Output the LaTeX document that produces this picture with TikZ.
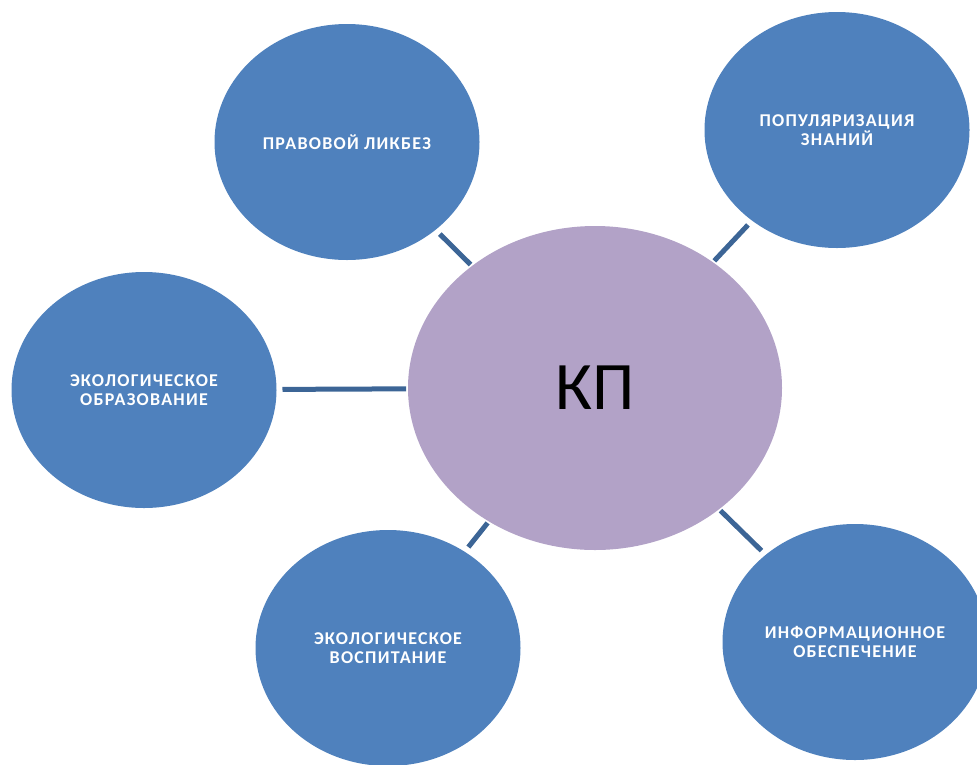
\documentclass[tikz,border=0pt]{standalone}
\usepackage{fontspec}
\setmainfont{Carlito}
\newfontfamily\labelfont{Carlito}[LetterSpace=7]
\usetikzlibrary{shapes.geometric}
\definecolor{topicblue}{HTML}{4F81BD}
\definecolor{corelilac}{HTML}{B2A2C7}
\definecolor{linkblue}{HTML}{3C6596}

\begin{document}
\begin{tikzpicture}[x=1pt,y=-1pt,
    topic/.style={ellipse, fill=topicblue, minimum width=265pt, minimum height=236pt,
      inner sep=0pt, outer sep=0pt, text=white, align=center,
      font=\labelfont\bfseries\fontsize{18}{19}\selectfont},
    link/.style={draw=linkblue, line width=5pt, shorten <=2pt, shorten >=6pt}]
    \useasboundingbox (0,0) rectangle (977,764);
    % centre
    \node[ellipse, fill=corelilac, minimum width=374pt, minimum height=324pt,
      inner sep=0pt, outer sep=0pt, font=\fontsize{68}{70}\selectfont] (kp) at (595,388) {КП};
    % topics
    \node[topic] (pravo) at (347,142) {ПРАВОВОЙ ЛИКБЕЗ};
    \node[topic] (popul) at (837,130) {ПОПУЛЯРИЗАЦИЯ\\ЗНАНИЙ};
    \node[topic] (obraz) at (144,390) {ЭКОЛОГИЧЕСКОЕ\\ОБРАЗОВАНИЕ};
    \node[topic] (vospit) at (388,648) {ЭКОЛОГИЧЕСКОЕ\\ВОСПИТАНИЕ};
    \node[topic] (inform) at (855,642) {ИНФОРМАЦИОННОЕ\\ОБЕСПЕЧЕНИЕ};
    % links
    \draw[link] (kp) -- (pravo);
    \draw[link] (kp) -- (popul);
    \draw[link] (kp) -- (obraz);
    \draw[link] (kp) -- (vospit);
    \draw[link] (kp) -- (inform);
  \end{tikzpicture}
\end{document}
